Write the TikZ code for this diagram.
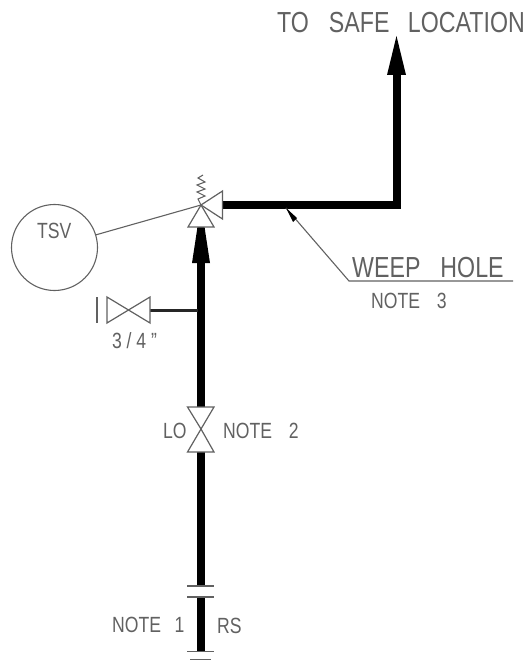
\documentclass[tikz,border=0pt]{standalone}
\usepackage{fontspec}
\setmainfont{Liberation Sans}
\usepackage{tikz}
\definecolor{cadgray}{gray}{0.38}
\tikzstyle{pipe}   = [draw=black,line width=8pt]
\tikzstyle{branch} = [draw=black!85,line width=3pt]
\tikzstyle{thinline} = [draw=cadgray,line width=1.1pt]
\tikzstyle{valve}  = [draw=cadgray,line width=1.2pt,fill=white,line join=miter]
\tikzstyle{flange} = [draw=cadgray,line width=1.5pt]
\tikzstyle{biglabel} = [inner sep=0pt,anchor=base west,xscale=0.8,text=cadgray,font=\fontsize{29}{29}\selectfont]
\tikzstyle{smalllabel} = [inner sep=0pt,anchor=base west,xscale=0.8,text=cadgray,font=\fontsize{22}{22}\selectfont]
\tikzstyle{instr}  = [draw=cadgray,circle,line width=1.1pt,minimum size=86pt,inner sep=0pt]

\begin{document}
\begin{tikzpicture}[x=1pt,y=-1pt]
\useasboundingbox (0,0) rectangle (526,660);

\coordinate (TV)   at (201,205);
\coordinate (TVR)  at (222,205);
\coordinate (TVB)  at (201,228);
\coordinate (Tee)  at (198,310);
\coordinate (LOT)  at (201,407);
\coordinate (LO)   at (201,429);
\coordinate (LOB)  at (201,452);
\coordinate (RS1)  at (201,586);
\coordinate (RS2)  at (201,597);
\coordinate (RS3)  at (201,651);
\coordinate (Bend) at (396.5,205);
\coordinate (Up)   at (396.5,72);
\coordinate (Tip)  at (396.5,36);
\coordinate (Hole) at (286,208);
\coordinate (Lead) at (349,281);
\coordinate (LeadE) at (513,281);
\coordinate (Drain) at (128.5,310);
\coordinate (DrainR) at (150,310);

\node[instr] (TSV) at (54.5,247.5) {};

% pipes
\path[pipe]
    (RS3) -- (RS2)
    (RS1) -- (LOB)
    (LOT) -- (TVB)
    (TVR) -- (Bend) -- (Up);
\path[branch] (DrainR) -- (Tee);
\draw[thinline] (TSV) ++(-17:43) -- (TV);

% arrowheads
\fill[black] (Tip) -- (406,75) -- (387,75) -- cycle;
\fill[black] (197.5,227) -- (204.5,227) -- (210,263) -- (192,263) -- cycle;

% valves
\path[valve] (TV) -- (222.5,191) -- (222.5,219) -- cycle;
\path[valve] (TV) -- (214,227) -- (188,227) -- cycle;
\path[valve] (LO) -- (187.5,407) -- (214,407) -- cycle;
\path[valve] (LO) -- (187.5,452) -- (214,452) -- cycle;
\path[valve] (Drain) -- (107,297) -- (107,323) -- cycle;
\path[valve] (Drain) -- (150,297) -- (150,323) -- cycle;
\draw[flange] (97,297) -- (97,323);

% spring on the relief valve
\draw[thinline] (TV) -- (198,199) -- (205,196) -- (197,192) -- (205,189) -- (197,185) -- (205,182) -- (198,178) -- (203,175);

% line blind and ends
\draw[flange] (187,586) -- (214,586);
\draw[flange] (187,597) -- (214,597);
\draw[flange] (187,651.5) -- (214,651.5);
\draw[flange] (190,659.5) -- (211,659.5);

% weep hole leader
\draw[thinline] (Hole) -- (Lead) -- (LeadE);
\fill[black] (Hole) -- (297,218) -- (293,222) -- cycle;

% labels
\node[biglabel] (ToSafe) at (277,33) {TO\kern25pt SAFE\kern23pt LOCATION};
\node[biglabel] (Weep) at (352,277) {WEEP\kern25pt HOLE};
\node[smalllabel] (Note3) at (371,308) {NOTE\kern21pt 3};
\node[smalllabel] (TSVtext) at (37,238) {TSV};
\node[smalllabel] (Size) at (112,348) {3\kern6pt /\kern6pt 4\kern6pt "};
\node[smalllabel] (LOtext) at (163,438) {LO};
\node[smalllabel] (Note2) at (223,438) {NOTE\kern21pt 2};
\node[smalllabel] (Note1) at (112,632) {NOTE\kern17pt 1};
\node[smalllabel] (RStext) at (217,633) {RS};

\end{tikzpicture}
\end{document}
